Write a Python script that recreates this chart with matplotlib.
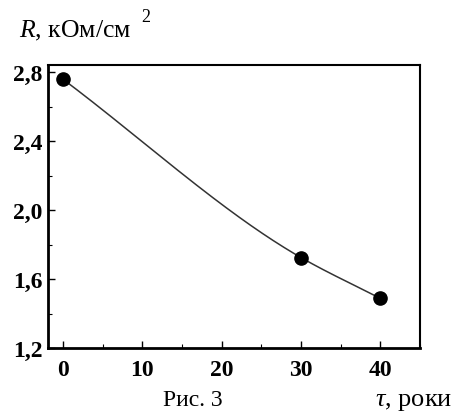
import numpy as np
import matplotlib
matplotlib.use("Agg")
import matplotlib.pyplot as plt
from matplotlib.ticker import MultipleLocator, FuncFormatter

t_years = [0, 30, 40]
R_values = [2.76, 1.725, 1.488]
x_ticks = [0, 10, 20, 30, 40]
y_ticks = [1.2, 1.6, 2.0, 2.4, 2.8]

plt.rcParams['font.family'] = ['Liberation Serif', 'DejaVu Serif']
plt.rcParams['mathtext.fontset'] = 'custom'
plt.rcParams['mathtext.rm'] = 'Liberation Serif'
plt.rcParams['mathtext.it'] = 'Liberation Serif:italic'


def clamped_spline(x, y, xs):
    """Cubic spline through the points, end slopes equal to the end chords."""
    x = np.asarray(x, float); y = np.asarray(y, float)
    n = len(x)
    h = np.diff(x)
    d0 = (y[1] - y[0]) / h[0]
    dn = (y[-1] - y[-2]) / h[-1]
    A = np.zeros((n, n)); b = np.zeros(n)
    A[0, 0] = 2 * h[0]; A[0, 1] = h[0]
    b[0] = 6 * ((y[1] - y[0]) / h[0] - d0)
    A[-1, -2] = h[-1]; A[-1, -1] = 2 * h[-1]
    b[-1] = 6 * (dn - (y[-1] - y[-2]) / h[-1])
    for i in range(1, n - 1):
        A[i, i - 1] = h[i - 1]
        A[i, i] = 2 * (h[i - 1] + h[i])
        A[i, i + 1] = h[i]
        b[i] = 6 * ((y[i + 1] - y[i]) / h[i] - (y[i] - y[i - 1]) / h[i - 1])
    M = np.linalg.solve(A, b)
    out = np.empty_like(xs)
    for k, xv in enumerate(xs):
        i = min(max(np.searchsorted(x, xv, side='right') - 1, 0), n - 2)
        t1 = x[i + 1] - xv; t0 = xv - x[i]
        out[k] = (M[i] * t1**3 + M[i + 1] * t0**3) / (6 * h[i]) \
            + (y[i] / h[i] - M[i] * h[i] / 6) * t1 \
            + (y[i + 1] / h[i] - M[i + 1] * h[i] / 6) * t0
    return out


fig = plt.figure(figsize=(4.59, 4.14), dpi=100)
ax = fig.add_axes([48/459, 1-349/414, (420-48)/459, (349-66)/414])

xs = np.linspace(min(t_years), max(t_years), 300)
ax.plot(xs, clamped_spline(t_years, R_values, xs), color='#333333', lw=1.1)
ax.plot(t_years, R_values, 'o', color='black', ms=9.5, zorder=3)

ax.set_xlim(-1.9, 45)
ax.set_ylim(1.2, 2.843)
ax.set_xticks(x_ticks)
ax.set_yticks(y_ticks)
ax.xaxis.set_minor_locator(MultipleLocator(5))
ax.yaxis.set_minor_locator(MultipleLocator(0.2))
ax.yaxis.set_major_formatter(FuncFormatter(lambda v, p: f"{v:.1f}".replace('.', ',')))
ax.tick_params(which='both', direction='in', top=False, right=False)
ax.tick_params(which='major', length=5, width=1, labelsize=17)
ax.tick_params(axis='x', which='major', pad=8)
ax.tick_params(axis='y', which='major', pad=4)
ax.tick_params(which='minor', length=3, width=0.8)
for lbl in ax.get_xticklabels() + ax.get_yticklabels():
    lbl.set_fontweight('bold')
for s in ax.spines.values():
    s.set_linewidth(1.5)
for s in ['left', 'bottom']:
    ax.spines[s].set_linewidth(2)

fig.text(19/459, 1-31/414, r"$R$, кОм/см", fontsize=18.5, va='center', ha='left')
fig.text(141/459, 1-18/414, "2", fontsize=13, va='center', ha='left')
fig.text(163/459, 1-401/414, "Рис. 3", fontsize=17, va='center', ha='left')
fig.text(375/459, 1-402/414, r"$\tau$, роки", fontsize=19, va='center', ha='left')

fig.savefig("out.png", dpi=100)
